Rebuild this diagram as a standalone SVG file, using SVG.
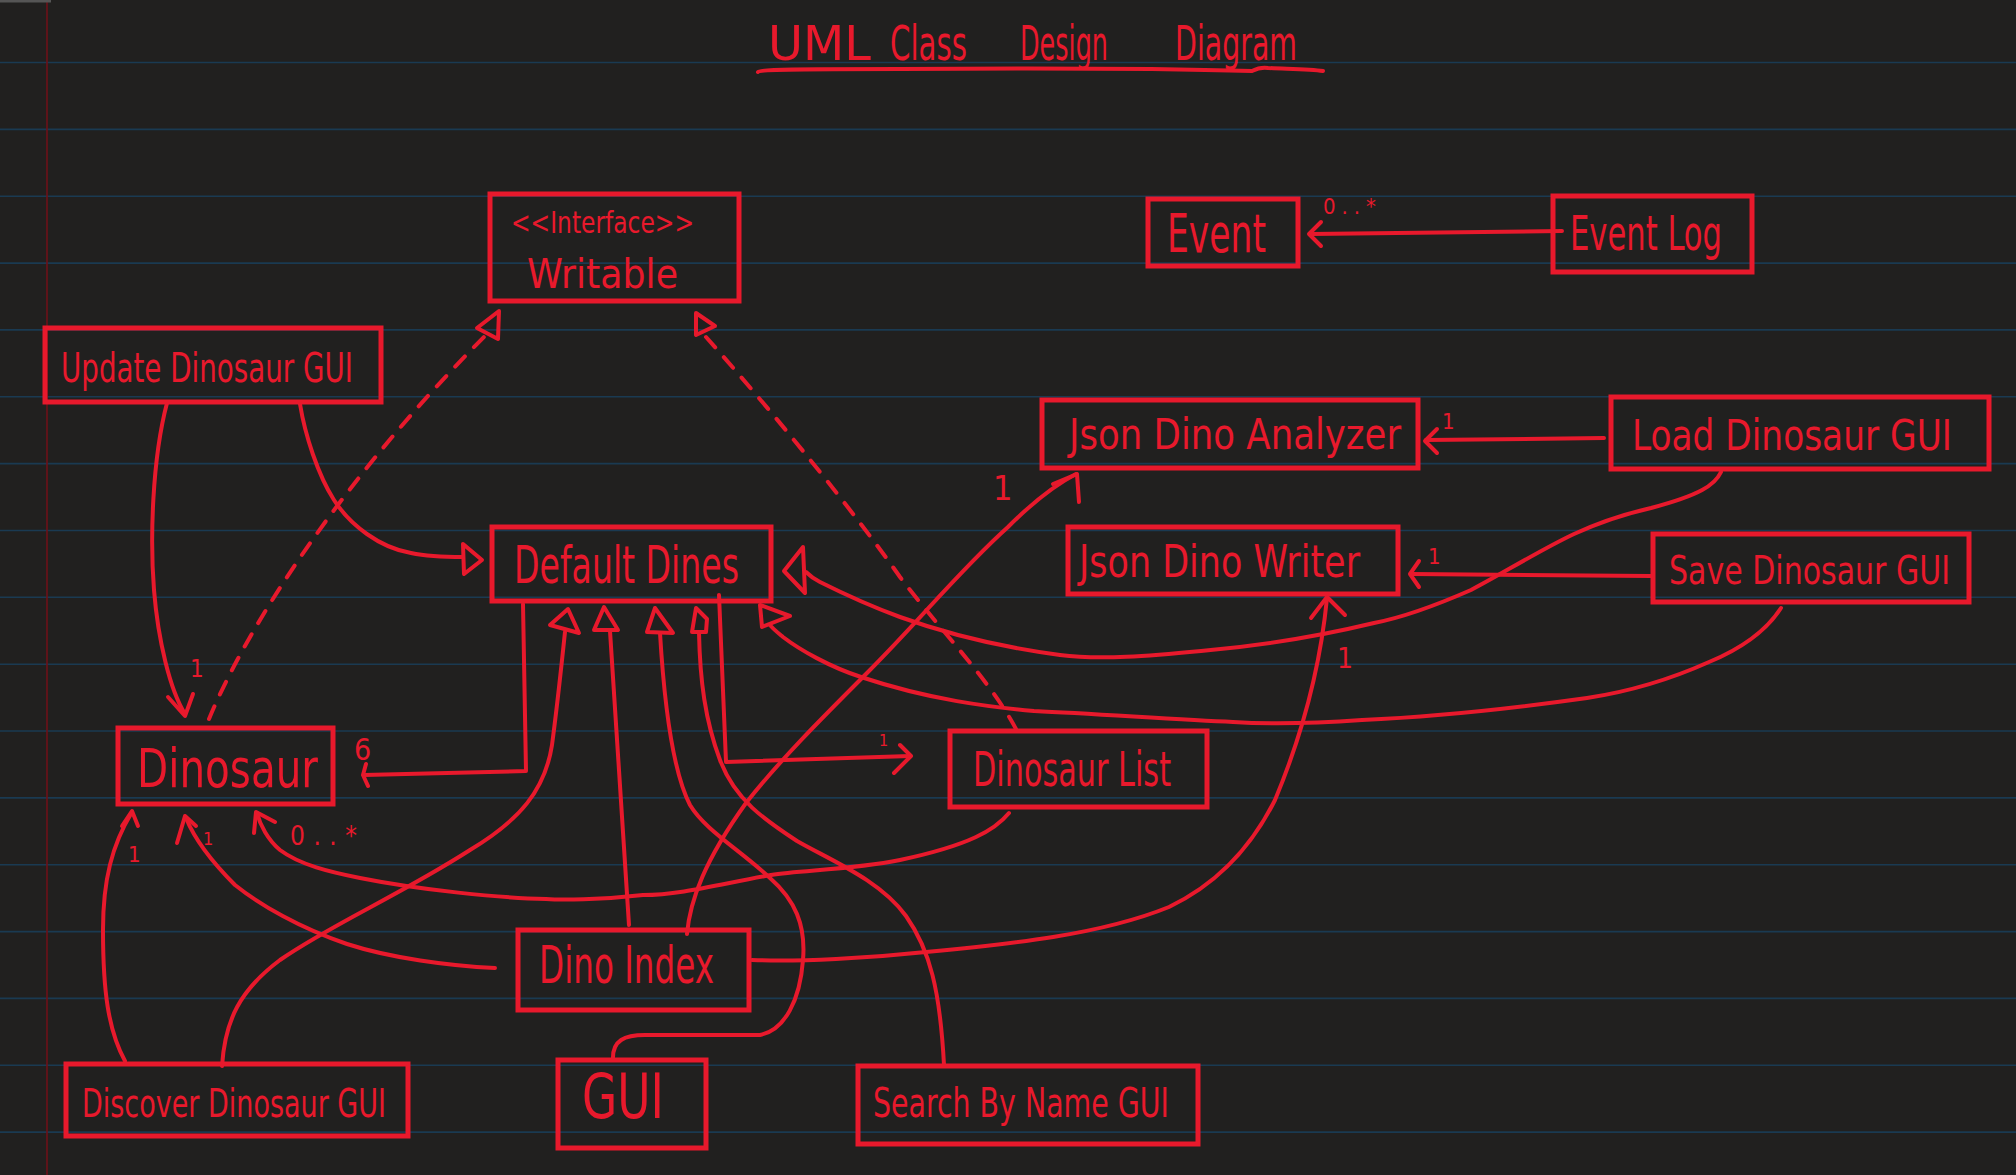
<svg xmlns="http://www.w3.org/2000/svg" width="2016" height="1175" viewBox="0 0 2016 1175">
<defs>
<style>
.bg{fill:#21201f}
.rule{stroke:#1a3a52;stroke-width:1.6}
.margin{stroke:#6e1118;stroke-width:1.6}
.box{fill:none;stroke:#e8192c;stroke-width:5}
.ln{fill:none;stroke:#e8192c;stroke-width:4;stroke-linecap:round;stroke-linejoin:round}
.dash{stroke-dasharray:14 13}
.tri{fill:none;stroke:#e8192c;stroke-width:4;stroke-linejoin:round}
.t{font-family:"Liberation Sans Narrow","DejaVu Sans Condensed","Liberation Sans",sans-serif;fill:#e8192c}
</style>
</defs>
<rect class="bg" x="0" y="0" width="2016" height="1175"/>
<g id="paper">
<line class="rule" x1="0" y1="62.5" x2="2016" y2="62.5"/>
<line class="rule" x1="0" y1="129.4" x2="2016" y2="129.4"/>
<line class="rule" x1="0" y1="196.2" x2="2016" y2="196.2"/>
<line class="rule" x1="0" y1="263.1" x2="2016" y2="263.1"/>
<line class="rule" x1="0" y1="329.9" x2="2016" y2="329.9"/>
<line class="rule" x1="0" y1="396.8" x2="2016" y2="396.8"/>
<line class="rule" x1="0" y1="463.6" x2="2016" y2="463.6"/>
<line class="rule" x1="0" y1="530.5" x2="2016" y2="530.5"/>
<line class="rule" x1="0" y1="597.3" x2="2016" y2="597.3"/>
<line class="rule" x1="0" y1="664.2" x2="2016" y2="664.2"/>
<line class="rule" x1="0" y1="731" x2="2016" y2="731"/>
<line class="rule" x1="0" y1="797.9" x2="2016" y2="797.9"/>
<line class="rule" x1="0" y1="864.7" x2="2016" y2="864.7"/>
<line class="rule" x1="0" y1="931.6" x2="2016" y2="931.6"/>
<line class="rule" x1="0" y1="998.4" x2="2016" y2="998.4"/>
<line class="rule" x1="0" y1="1065.3" x2="2016" y2="1065.3"/>
<line class="rule" x1="0" y1="1132.1" x2="2016" y2="1132.1"/>
<line class="margin" x1="47" y1="0" x2="47" y2="1175"/>
<rect x="0" y="0" width="51" height="2.5" fill="#555"/>
</g>
<g id="title">
<text class="t" font-size="48" y="60"><tspan x="768" textLength="103" lengthAdjust="spacingAndGlyphs">UML</tspan><tspan x="890" textLength="77" lengthAdjust="spacingAndGlyphs">Class</tspan><tspan x="1020" textLength="88" lengthAdjust="spacingAndGlyphs">Design</tspan><tspan x="1175" textLength="122" lengthAdjust="spacingAndGlyphs">Diagram</tspan></text>
<path class="ln" d="M758,72 C 760,69 800,69 900,69 C 1050,68 1180,69 1252,71 C 1258,68 1262,67 1268,68 C 1290,69 1310,69 1323,71"/>
</g>
<g id="connectors">
<!-- Event Log -> Event -->
<path class="ln" d="M1562,231 L1311,234"/>
<polyline class="ln" points="1321,222 1309,234 1321,246"/>
<text class="t" font-size="22" x="1323" y="214" textLength="53" lengthAdjust="spacing">0..*</text>
<!-- Load -> Analyzer -->
<path class="ln" d="M1604,438 L1426,440"/>
<polyline class="ln" points="1437,429 1425,441 1437,453"/>
<text class="t" font-size="22" x="1442" y="429">1</text>
<!-- Save -> Writer -->
<path class="ln" d="M1651,576 L1411,574"/>
<polyline class="ln" points="1419,561 1410,574 1419,587"/>
<text class="t" font-size="22" x="1428" y="564">1</text>
<!-- Update -> Dinosaur -->
<path class="ln" d="M167,403 C 152,460 150,540 154,590 C 158,640 170,690 185,714"/>
<polyline class="ln" points="168,697 185,716 193,694"/>
<text class="t" font-size="24" x="190" y="677">1</text>
<!-- Update -> Default Dines -->
<path class="ln" d="M300,404 C 305,435 318,475 334,500 C 350,525 380,548 411,553 C 430,557 450,557 463,557"/>
<polygon class="tri" points="463,544 482,560 464,574"/>
<!-- Dinosaur -> Writable (dashed) -->
<path class="ln dash" d="M209,719 C 250,620 350,470 488,333"/>
<polygon class="tri" points="499,311 477,328 498,339"/>
<!-- Dinosaur List -> Writable (dashed) -->
<path class="ln dash" d="M706,337 C 780,420 860,520 900,577 C 940,630 990,680 1016,729"/>
<polygon class="tri" points="696,313 715,326 696,335"/>
<!-- Default Dines -> Dinosaur (6) -->
<polyline class="ln" points="523,604 526,771 364,775"/>
<polyline class="ln" points="366,764 363,775 368,786"/>
<text class="t" font-size="30" x="354" y="760">6</text>
<!-- Default Dines -> Dinosaur List (1) -->
<polyline class="ln" points="719,595 726,762 910,756"/>
<polyline class="ln" points="900,745 911,756 894,773"/>
<text class="t" font-size="16" x="879" y="746">1</text>
<!-- Dino Index -> Default Dines -->
<path class="ln" d="M629,925 L610,631"/>
<polygon class="tri" points="594,630 604,607 618,630"/>
<!-- GUI -> Default Dines -->
<path class="ln" d="M613,1060 C 612,1040 625,1035 645,1035 L 760,1035 C 785,1030 800,1000 803,960 C 806,925 795,900 770,878 C 740,850 705,830 690,805 C 672,770 664,700 660,633"/>
<polygon class="tri" points="647,632 655,608 673,633"/>
<!-- Search By Name GUI -> Default Dines -->
<path class="ln" d="M944,1065 C 940,990 930,950 906,916 C 880,880 830,860 797,841 C 765,820 735,800 720,760 C 705,720 700,680 699,633"/>
<polygon class="tri" points="692,632 696,608 707,619 706,632"/>
<!-- Discover -> Default Dines -->
<path class="ln" d="M222,1066 C 225,1020 240,990 280,960 C 330,925 400,895 470,850 C 520,820 545,790 552,745 C 558,700 562,660 565,632"/>
<polygon class="tri" points="550,625 568,609 579,633"/>
<!-- Discover -> Dinosaur (1) -->
<path class="ln" d="M125,1061 C 108,1030 103,990 103,930 C 103,880 112,845 132,812"/>
<polyline class="ln" points="122,826 132,811 138,826"/>
<text class="t" font-size="22" x="128" y="862">1</text>
<!-- Dino Index -> Dinosaur (1) -->
<path class="ln" d="M495,968 C 450,966 390,958 347,944 C 300,928 260,905 235,885 C 210,860 195,840 186,818"/>
<polyline class="ln" points="177,843 185,816 196,826"/>
<text class="t" font-size="18" x="203" y="845">1</text>
<!-- Dinosaur List -> Dinosaur (0..*) -->
<path class="ln" d="M1009,813 C 995,830 970,845 900,860 C 850,870 800,870 771,875 C 720,884 680,895 643,895 C 600,900 560,900 546,899 C 500,898 420,890 360,878 C 330,872 300,865 280,850 C 268,840 260,825 257,813"/>
<polyline class="ln" points="254,833 256,812 275,822"/>
<text class="t" font-size="26" x="290" y="845" textLength="67" lengthAdjust="spacing">0..*</text>
<!-- Dino Index -> Json Dino Analyzer (1) -->
<path class="ln" d="M687,934 C 690,900 705,860 746,803 C 780,760 820,720 868,672 C 920,620 960,570 1008,527 C 1035,500 1055,485 1076,474"/>
<polyline class="ln" points="1053,484 1077,474 1079,502"/>
<text class="t" font-size="34" x="993" y="500">1</text>
<!-- Dino Index -> Json Dino Writer (1) -->
<path class="ln" d="M752,960 C 800,962 870,958 926,952 C 1010,944 1100,935 1169,907 C 1215,885 1250,850 1275,800 C 1300,740 1320,670 1327,598"/>
<polyline class="ln" points="1311,618 1327,597 1345,615"/>
<text class="t" font-size="28" x="1337" y="668">1</text>
<!-- Load Dinosaur GUI -> Default Dines -->
<path class="ln" d="M1721,472 C 1715,485 1700,495 1651,508 C 1620,515 1600,522 1574,534 C 1540,550 1500,575 1471,590 C 1430,608 1400,618 1374,623 C 1320,636 1270,645 1201,651 C 1150,656 1100,660 1060,655 C 1000,647 950,635 900,617 C 870,606 840,592 820,582 C 812,578 808,574 806,572"/>
<polygon class="tri" points="803,547 784,571 805,593"/>
<!-- Save Dinosaur GUI -> Default Dines -->
<path class="ln" d="M1781,608 C 1770,625 1750,645 1709,662 C 1680,675 1640,690 1587,698 C 1530,706 1450,716 1362,720 C 1320,723 1280,725 1233,722 C 1180,720 1100,714 1034,711 C 990,707 930,700 861,677 C 830,667 800,650 783,637 C 777,632 772,628 770,625"/>
<polygon class="tri" points="760,605 790,616 762,627"/>
</g>
<g id="writable">
<rect class="box" x="490" y="194" width="249" height="107"/>
<text class="t" font-size="30" x="511" y="233" textLength="183" lengthAdjust="spacingAndGlyphs">&lt;&lt;Interface&gt;&gt;</text>
<text class="t" font-size="40" x="527" y="288" textLength="151" lengthAdjust="spacingAndGlyphs">Writable</text>
</g>
<g id="update-dinosaur-gui">
<rect class="box" x="45" y="328" width="336" height="74"/>
<text class="t" font-size="40.5" x="61" y="382" textLength="292" lengthAdjust="spacingAndGlyphs">Update Dinosaur GUI</text>
</g>
<g id="default-dines">
<rect class="box" x="492" y="527" width="279" height="74"/>
<text class="t" font-size="51" x="514" y="583" textLength="225" lengthAdjust="spacingAndGlyphs">Default Dines</text>
</g>
<g id="event">
<rect class="box" x="1148" y="199" width="150" height="67"/>
<text class="t" font-size="54" x="1167" y="252" textLength="99" lengthAdjust="spacingAndGlyphs">Event</text>
</g>
<g id="event-log">
<rect class="box" x="1553" y="196" width="199" height="76"/>
<text class="t" font-size="48" x="1570" y="250" textLength="152" lengthAdjust="spacingAndGlyphs">Event Log</text>
</g>
<g id="json-dino-analyzer">
<rect class="box" x="1042" y="400" width="376" height="68"/>
<text class="t" font-size="42.5" x="1069" y="449" textLength="332" lengthAdjust="spacingAndGlyphs">Json Dino Analyzer</text>
</g>
<g id="load-dinosaur-gui">
<rect class="box" x="1611" y="397" width="378" height="72"/>
<text class="t" font-size="43.5" x="1632" y="450" textLength="320" lengthAdjust="spacingAndGlyphs">Load Dinosaur GUI</text>
</g>
<g id="json-dino-writer">
<rect class="box" x="1068" y="527" width="330" height="67"/>
<text class="t" font-size="45" x="1079" y="577" textLength="281" lengthAdjust="spacingAndGlyphs">Json Dino Writer</text>
</g>
<g id="save-dinosaur-gui">
<rect class="box" x="1653" y="534" width="316" height="68"/>
<text class="t" font-size="39.5" x="1669" y="584" textLength="281" lengthAdjust="spacingAndGlyphs">Save Dinosaur GUI</text>
</g>
<g id="dinosaur">
<rect class="box" x="118" y="728" width="215" height="76"/>
<text class="t" font-size="53" x="137" y="787" textLength="181" lengthAdjust="spacingAndGlyphs">Dinosaur</text>
</g>
<g id="dinosaur-list">
<rect class="box" x="950" y="731" width="257" height="76"/>
<text class="t" font-size="48" x="973" y="786" textLength="198" lengthAdjust="spacingAndGlyphs">Dinosaur List</text>
</g>
<g id="dino-index">
<rect class="box" x="518" y="930" width="231" height="80"/>
<text class="t" font-size="52" x="539" y="983" textLength="175" lengthAdjust="spacingAndGlyphs">Dino Index</text>
</g>
<g id="discover-dinosaur-gui">
<rect class="box" x="66" y="1064" width="342" height="72"/>
<text class="t" font-size="38.5" x="82" y="1117" textLength="304" lengthAdjust="spacingAndGlyphs">Discover Dinosaur GUI</text>
</g>
<g id="gui">
<rect class="box" x="558" y="1060" width="148" height="88"/>
<text class="t" font-size="62" x="582" y="1118" textLength="82" lengthAdjust="spacingAndGlyphs">GUI</text>
</g>
<g id="search-by-name-gui">
<rect class="box" x="858" y="1066" width="340" height="78"/>
<text class="t" font-size="41" x="873" y="1117" textLength="296" lengthAdjust="spacingAndGlyphs">Search By Name GUI</text>
</g>
</svg>
